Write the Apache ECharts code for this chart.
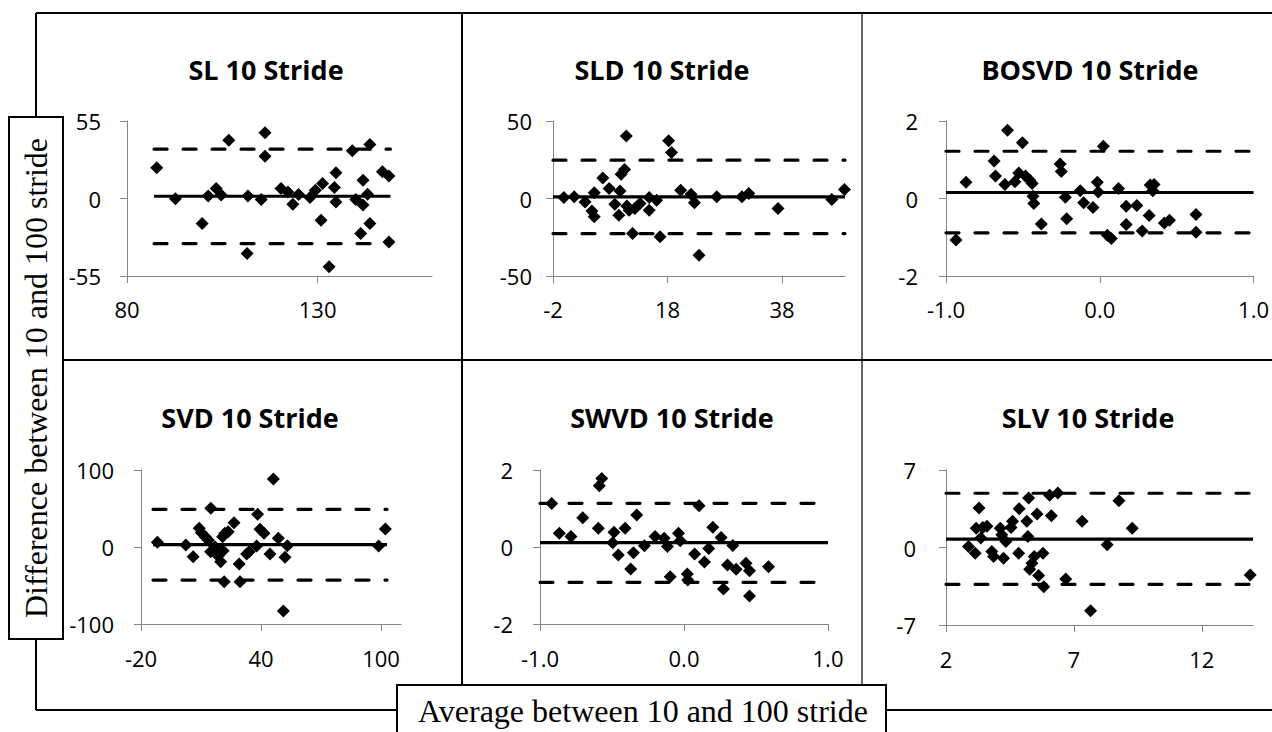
<!DOCTYPE html>
<html>
<head>
<meta charset="utf-8">
<script src="https://cdn.jsdelivr.net/npm/echarts@6/dist/echarts.min.js"></script>
<style>
html,body{margin:0;padding:0;background:#fff;}
#chart{width:1272px;height:732px;}
</style>
</head>
<body>
<div id="chart"></div>
<script>
// ---------- data ----------
const panelTitles = ['SL 10 Stride', 'SLD 10 Stride', 'BOSVD 10 Stride', 'SVD 10 Stride', 'SWVD 10 Stride', 'SLV 10 Stride'];
const yAxisTitle = 'Difference between 10 and 100 stride';
const xAxisTitle = 'Average between 10 and 100 stride';

const slAvg  = [87.8, 92.7, 99.7, 101.3, 103.4, 104.7, 106.7, 111.5, 111.7, 115.2, 116.2, 116.2, 120.4, 122.2, 123.5, 125.0, 128.0, 129.4, 130.9, 131.3, 133.0, 134.4, 134.8, 134.8, 139.1, 140.0, 141.3, 141.9, 141.9, 143.1, 143.7, 143.7, 147.0, 148.7, 148.7];
const slDiff = [21.8, -0.2, -17.7, 1.7, 7.1, 2.4, 41.4, -39.0, 1.7, -0.7, 46.6, 30.0, 7.1, 4.7, -4.0, 2.8, 0.7, 5.9, -15.4, 10.6, -48.5, 7.8, 18.2, -2.4, 33.8, -0.7, -24.8, 13.0, -4.7, 3.1, 38.3, -17.7, 18.9, 15.9, -30.8];

const sldAvg  = [-0.1, 1.7, 3.6, 4.8, 5.2, 5.2, 6.7, 7.8, 8.8, 9.5, 9.7, 9.9, 10.5, 10.8, 10.9, 11.3, 11.9, 12.3, 13.2, 14.8, 14.8, 16.1, 16.7, 18.2, 18.7, 20.3, 22.1, 22.7, 23.5, 26.6, 31.0, 32.2, 37.3, 46.7, 48.9];
const sldDiff = [0.6, 1.1, -2.2, -8.0, -11.8, 3.7, 13.3, 6.5, -3.7, -10.8, 4.9, 15.7, 18.7, 40.4, -4.9, -7.5, -22.6, -6.5, -3.2, 0.6, -7.5, -1.1, -24.7, 37.2, 29.7, 5.4, 2.8, -2.8, -36.6, 1.1, 1.1, 3.2, -6.5, -0.6, 5.8];

const bosvdAvg  = [-0.935, -0.870, -0.687, -0.678, -0.617, -0.600, -0.552, -0.527, -0.503, -0.483, -0.455, -0.440, -0.434, -0.429, -0.380, -0.258, -0.250, -0.224, -0.215, -0.127, -0.105, -0.044, -0.016, -0.010, 0.023, 0.049, 0.075, 0.122, 0.172, 0.172, 0.241, 0.276, 0.321, 0.328, 0.345, 0.353, 0.420, 0.453, 0.626, 0.626];
const bosvdDiff = [-1.07, 0.42, 0.97, 0.58, 0.36, 1.76, 0.43, 0.66, 1.44, 0.58, 0.47, 0.39, 0.06, -0.13, -0.66, 0.89, 0.70, 0.03, -0.52, 0.20, -0.11, -0.23, 0.42, 0.17, 1.35, -0.95, -1.03, 0.26, -0.20, -0.67, -0.18, -0.84, -0.44, 0.35, 0.20, 0.36, -0.63, -0.56, -0.41, -0.87];

const svdAvg  = [-11.8, 2.4, 6.1, 9.1, 10.2, 12.3, 13.6, 14.9, 14.8, 16.9, 18.6, 19.8, 20.8, 21.1, 21.9, 21.6, 23.6, 26.5, 29.1, 29.5, 32.8, 34.1, 37.8, 38.3, 39.5, 41.5, 44.5, 46.2, 48.7, 51.2, 52.0, 53.2, 98.8, 102.2];
const svdDiff = [6.1, 2.6, -12.6, 24.2, 18.6, 12.6, 9.1, 50.2, -6.1, 0.4, -11.7, -19.0, 13.4, -4.8, 17.7, -45.0, 19.9, 31.6, -22.1, -45.0, -9.1, -6.1, 1.3, 42.4, 22.9, 17.7, -9.1, 88.3, 11.3, -83.1, -13.4, 1.7, 1.3, 23.4];

const swvdAvg  = [-0.919, -0.866, -0.785, -0.703, -0.595, -0.588, -0.571, -0.495, -0.486, -0.456, -0.409, -0.370, -0.351, -0.328, -0.275, -0.201, -0.138, -0.115, -0.096, -0.038, -0.026, 0.023, 0.026, 0.074, 0.105, 0.142, 0.172, 0.200, 0.258, 0.274, 0.302, 0.339, 0.362, 0.430, 0.455, 0.455, 0.587];
const swvdDiff = [1.13, 0.36, 0.27, 0.76, 0.49, 1.59, 1.78, 0.11, 0.38, -0.21, 0.49, -0.57, -0.15, 0.83, 0.03, 0.27, 0.23, 0.01, -0.77, 0.36, 0.16, -0.70, -0.86, -0.18, 1.07, -0.39, -0.04, 0.51, 0.25, -1.09, -0.47, 0.04, -0.58, -0.42, -0.62, -1.27, -0.51];

const slvAvg  = [2.88, 3.14, 3.18, 3.29, 3.36, 3.44, 3.60, 3.79, 3.86, 4.12, 4.18, 4.25, 4.34, 4.54, 4.60, 4.84, 4.86, 5.16, 5.20, 5.23, 5.27, 5.36, 5.45, 5.56, 5.62, 5.79, 5.82, 6.05, 6.12, 6.37, 6.68, 7.32, 7.65, 8.30, 8.76, 9.28, 13.89];
const slvDiff = [0.09, -0.51, 1.75, 3.57, 0.85, 1.81, 1.91, -0.36, -0.82, 1.75, 1.15, -0.97, 0.54, 1.81, 2.36, -0.51, 3.51, 2.36, 1.00, 4.48, -1.97, -1.42, -0.82, 3.02, -2.54, -0.51, -3.54, 4.72, 2.87, 4.93, -2.84, 2.36, -5.72, 0.24, 4.23, 1.75, -2.48];

// mean difference and limits of agreement (upper, lower) per panel
const meanDiff = [1.6, 1.1, 0.155, 3.0, 0.113, 0.76];
const upperLoA = [35, 24.7, 1.22, 48.9, 1.134, 4.90];
const lowerLoA = [-32, -22.6, -0.886, -42.9, -0.918, -3.33];
// x extent of the reference lines per panel
const lineStart = [87.1, -2, -1, -14, -1, 2];
const lineEnd   = [149.1, 49, 1, 103, 1, 14];

// axis ranges and tick labels
const xMin = [80, -2, -1, -20, -1, 2];
const xMax = [160, 49, 1, 110, 1, 14];
const xTicks = [[80, 130], [-2, 18, 38], [-1, 0, 1], [-20, 40, 100], [-1, 0, 1], [2, 7, 12]];
const xDecimals = [0, 0, 1, 0, 1, 0];
const yMin = [-55, -50, -2, -100, -2, -7];
const yMax = [55, 50, 2, 100, 2, 7];
const yTicks = [[-55, 0, 55], [-50, 0, 50], [-2, 0, 2], [-100, 0, 100], [-2, 0, 2], [-7, 0, 7]];

const avgSets  = [slAvg, sldAvg, bosvdAvg, svdAvg, swvdAvg, slvAvg];
const diffSets = [slDiff, sldDiff, bosvdDiff, svdDiff, swvdDiff, slvDiff];

// ---------- layout ----------
const grids = [
  {left: 127, top: 121, width: 305, height: 155},
  {left: 553, top: 121, width: 292, height: 155},
  {left: 946, top: 121, width: 308, height: 155},
  {left: 141, top: 470, width: 260, height: 154},
  {left: 540, top: 470, width: 288, height: 154},
  {left: 946, top: 470, width: 307, height: 155}
];
const yLabelMargin = [26, 21, 28, 27, 27, 30];
const xLabelMargin = [22, 22, 22, 23, 23, 23];
const titleX = [266, 662, 1090, 250, 672, 1088];
const titleY = [69, 69, 69, 417, 417, 417];

const axisGray = '#868686';
const labelFont = {fontFamily: 'Open Sans', fontSize: 22, color: '#000'};

const xAxes = [], yAxes = [], series = [], graphics = [];
for (let i = 0; i < 6; i++) {
  const dec = xDecimals[i];
  xAxes.push({
    type: 'value', gridIndex: i, min: xMin[i], max: xMax[i],
    axisLine: {onZero: false, lineStyle: {color: axisGray, width: 1}},
    axisTick: {show: true, length: 7, customValues: xTicks[i], lineStyle: {color: axisGray}},
    axisLabel: Object.assign({margin: xLabelMargin[i], customValues: xTicks[i], formatter: v => Number(v).toFixed(dec)}, labelFont),
    splitLine: {show: false}
  });
  yAxes.push({
    type: 'value', gridIndex: i, min: yMin[i], max: yMax[i],
    axisLine: {show: true, onZero: false, lineStyle: {color: axisGray, width: 1}},
    axisTick: {show: true, length: 7, customValues: yTicks[i], lineStyle: {color: axisGray}},
    axisLabel: Object.assign({margin: yLabelMargin[i], customValues: yTicks[i]}, labelFont),
    splitLine: {show: false}
  });
  const pts = avgSets[i].map((x, k) => [x, diffSets[i][k]]);
  series.push({
    type: 'scatter', xAxisIndex: i, yAxisIndex: i, data: pts,
    symbol: 'diamond', symbolSize: [13, 13], itemStyle: {color: '#000', opacity: 1}, z: 3, silent: true
  });
  const mk = (v, dashed) => ({
    type: 'line', xAxisIndex: i, yAxisIndex: i, showSymbol: false, symbol: 'none', silent: true, z: 4,
    data: [[lineStart[i], v], [lineEnd[i], v]],
    lineStyle: dashed ? {color: '#000', width: 3.2, type: [13, 16], cap: 'round'} : {color: '#000', width: 3.2}
  });
  series.push(mk(meanDiff[i], false), mk(upperLoA[i], true), mk(lowerLoA[i], true));
  graphics.push({
    type: 'text', x: titleX[i], y: titleY[i],
    style: {text: panelTitles[i], fontFamily: 'Open Sans', fontWeight: 'bold', fontSize: 27, fill: '#000', align: 'center', verticalAlign: 'middle'}
  });
}

const L = (x1, y1, x2, y2, w) => ({type: 'line', shape: {x1, y1, x2, y2}, style: {stroke: '#000', lineWidth: w || 2}, z: 10});
// frame
graphics.push(L(36, 13, 1272, 13));
graphics.push(L(36, 13, 36, 117));
graphics.push(L(36, 639, 36, 710));
graphics.push(L(36, 710, 397, 710));
graphics.push(L(886, 710, 1272, 710));
graphics.push(L(462, 13, 462, 685));
graphics.push(L(862, 13, 862, 685, 1.2));
graphics.push(L(63, 360, 1272, 360));
// axis-name boxes
graphics.push({type: 'rect', shape: {x: 9, y: 117, width: 54, height: 522}, style: {fill: '#fff', stroke: '#000', lineWidth: 2}, z: 11});
graphics.push({type: 'text', x: 36, y: 378, rotation: Math.PI / 2, z: 12,
  style: {text: yAxisTitle, fontFamily: 'Liberation Serif', fontSize: 32, fill: '#000', align: 'center', verticalAlign: 'middle'}});
graphics.push({type: 'rect', shape: {x: 397, y: 685, width: 489, height: 60}, style: {fill: '#fff', stroke: '#000', lineWidth: 2}, z: 11});
graphics.push({type: 'text', x: 643, y: 711, z: 12,
  style: {text: xAxisTitle, fontFamily: 'Liberation Serif', fontSize: 32, fill: '#000', align: 'center', verticalAlign: 'middle'}});

const chart = echarts.init(document.getElementById('chart'), null, {renderer: 'svg'});
chart.setOption({
  backgroundColor: '#fff',
  animation: false,
  grid: grids,
  xAxis: xAxes,
  yAxis: yAxes,
  series: series,
  graphic: graphics
});
</script>
</body>
</html>
